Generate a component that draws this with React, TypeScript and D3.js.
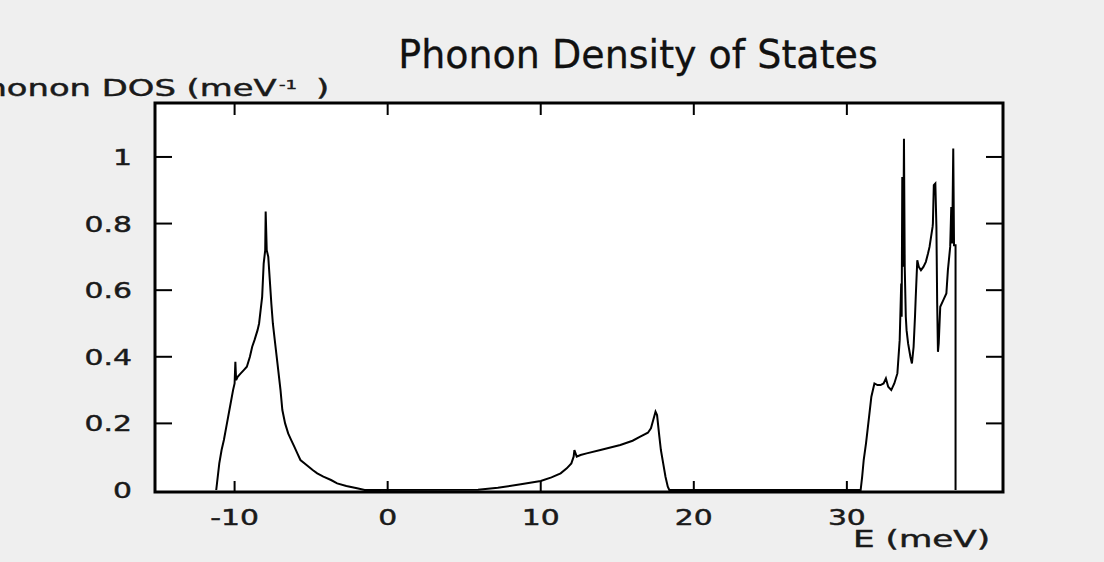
import React from "react";
import * as d3 from "d3";

const energy = [
  -11.2, -11.0, -10.85, -10.7, -10.5, -10.3, -10.1, -10.0, -9.95, -9.9, -9.8, -9.6, -9.4, -9.2, -9.0,
  -8.85, -8.7, -8.5, -8.4, -8.3, -8.2, -8.1, -8.0, -7.97, -7.9, -7.8, -7.7, -7.6, -7.5, -7.4, -7.3,
  -7.2, -7.0, -6.88, -6.7, -6.5, -6.3, -6.1, -5.9, -5.7, -5.3, -4.9, -4.6, -4.2, -3.7, -3.3, -2.7,
  -2.0, -1.5, 5.9, 7.2, 8.7, 10.0, 10.7, 11.3, 11.7, 12.0, 12.15, 12.2, 12.35, 12.6, 13.0, 13.9,
  15.2, 16.0, 16.5, 17.0, 17.2, 17.35, 17.5, 17.6, 17.75, 17.85, 18.0, 18.15, 18.3, 18.4, 30.9,
  31.0, 31.1, 31.25, 31.35, 31.5, 31.6, 31.8, 32.0, 32.2, 32.4, 32.55, 32.7, 32.9, 33.1, 33.3,
  33.45, 33.55, 33.58, 33.62, 33.68, 33.73, 33.78, 33.85, 33.9, 34.0, 34.15, 34.25, 34.36, 34.45,
  34.5, 34.6, 34.7, 34.84, 35.0, 35.16, 35.3, 35.4, 35.5, 35.6, 35.62, 35.68, 35.78, 35.85, 35.9,
  35.95, 36.0, 36.1, 36.3, 36.5, 36.6, 36.75, 36.82, 36.88, 36.95, 37.0, 37.1, 37.1,
];
const dos = [
  0, 0.08, 0.12, 0.15, 0.2, 0.25, 0.3, 0.32, 0.385, 0.33, 0.34, 0.35, 0.36, 0.37, 0.4,
  0.43, 0.45, 0.48, 0.5, 0.54, 0.58, 0.68, 0.72, 0.836, 0.72, 0.7, 0.63, 0.56, 0.5, 0.46, 0.42,
  0.38, 0.3, 0.24, 0.2, 0.17, 0.15, 0.13, 0.11, 0.09, 0.075, 0.06, 0.05, 0.04, 0.03, 0.02, 0.012,
  0.005, 0, 0.001, 0.007, 0.017, 0.027, 0.038, 0.05, 0.065, 0.08, 0.1, 0.12, 0.1, 0.105, 0.11, 0.12,
  0.135, 0.148, 0.16, 0.172, 0.185, 0.21, 0.235, 0.225, 0.16, 0.12, 0.08, 0.04, 0.01, 0, 0,
  0.04, 0.09, 0.14, 0.18, 0.24, 0.28, 0.32, 0.315, 0.315, 0.32, 0.335, 0.31, 0.3, 0.32, 0.35,
  0.45, 0.62, 0.52, 0.94, 0.67, 1.055, 0.67, 0.52, 0.48, 0.44, 0.4, 0.38, 0.43, 0.52,
  0.58, 0.69, 0.67, 0.66, 0.67, 0.685, 0.71, 0.73, 0.76, 0.79, 0.8, 0.915, 0.92, 0.79, 0.56,
  0.415, 0.44, 0.55, 0.57, 0.59, 0.66, 0.73, 0.85, 0.74, 1.025, 0.735, 0.735, 0,
];
const xTicks = [-10, 0, 10, 20, 30];
const yTicks = [0, 0.2, 0.4, 0.6, 0.8, 1];
const yTickLabels = ["0", "0.2", "0.4", "0.6", "0.8", "1"];
const xTickLabels = ["-10", "0", "10", "20", "30"];
const titleText = "Phonon Density of States";
const yLabelText = "Phonon DOS (meV";
const xLabelText = "E (meV)";

const W = 1104;
const H = 562;
const L = 155, R = 1003, T = 103, B = 492;

export default function App() {
  const x = d3.scaleLinear().domain([-15.2, 40.2]).range([L, R]);
  const y = d3.scaleLinear().domain([0, 1.162]).range([490, T]);
  const pts: [number, number][] = energy.map((e, i) => [e, dos[i]]);
  const line = d3.line<[number, number]>().x((d) => x(d[0])).y((d) => y(d[1]));
  const font = "'DejaVu Sans', Verdana, sans-serif";
  const sx = 1.42;
  const txt = { fill: "#1a1a1a", stroke: "#1a1a1a", strokeWidth: 0.45 };
  return (
    <svg
      width={W}
      height={H}
      style={{ position: "absolute", left: 0, top: 0, display: "block" }}
      fontFamily={font}
    >
      <rect x={0} y={0} width={W} height={H} fill="#efefef" />
      <rect x={L} y={T} width={R - L} height={B - T} fill="#ffffff" />
      <path d={line(pts) || ""} fill="none" stroke="#000" strokeWidth={2} strokeLinejoin="miter" />
      {xTicks.map((t) => (
        <g key={"xt" + t}>
          <line x1={x(t)} x2={x(t)} y1={B} y2={B - 11} stroke="#000" strokeWidth={2} />
          <line x1={x(t)} x2={x(t)} y1={T} y2={T + 12} stroke="#000" strokeWidth={2} />
        </g>
      ))}
      {yTicks.filter((t) => t > 0).map((t) => (
        <g key={"yt" + t}>
          <line x1={L} x2={L + 17} y1={y(t)} y2={y(t)} stroke="#000" strokeWidth={2} />
          <line x1={R} x2={R - 17} y1={y(t)} y2={y(t)} stroke="#000" strokeWidth={2} />
        </g>
      ))}
      <rect x={L} y={T} width={R - L} height={B - T} fill="none" stroke="#000" strokeWidth={3} />
      {yTicks.map((t, i) => (
        <text
          key={"yl" + t}
          transform={`translate(132,${y(t) + 8}) scale(${sx},1)`}
          textAnchor="end"
          fontSize={21}
          {...txt}
        >
          {yTickLabels[i]}
        </text>
      ))}
      {xTicks.map((t, i) => (
        <text
          key={"xl" + t}
          transform={`translate(${x(t)},525) scale(${sx},1)`}
          textAnchor="middle"
          fontSize={21}
          {...txt}
        >
          {xTickLabels[i]}
        </text>
      ))}
      <text transform="translate(638,68) scale(0.975,1)" textAnchor="middle" fontSize={39} fill="#111" stroke="#111" strokeWidth={0.3}>
        {titleText}
      </text>
      <text transform="translate(-35,96) scale(1.47,1)" fontSize={23} {...txt}>
        {yLabelText}
      </text>
      <text transform="translate(279,89) scale(1.4,1)" fontSize={13} {...txt}>
        -1
      </text>
      <text transform="translate(316,96) scale(1.47,1)" fontSize={23} {...txt}>
        )
      </text>
      <text transform="translate(853,547) scale(1.49,1)" fontSize={23} {...txt}>
        {xLabelText}
      </text>
    </svg>
  );
}
